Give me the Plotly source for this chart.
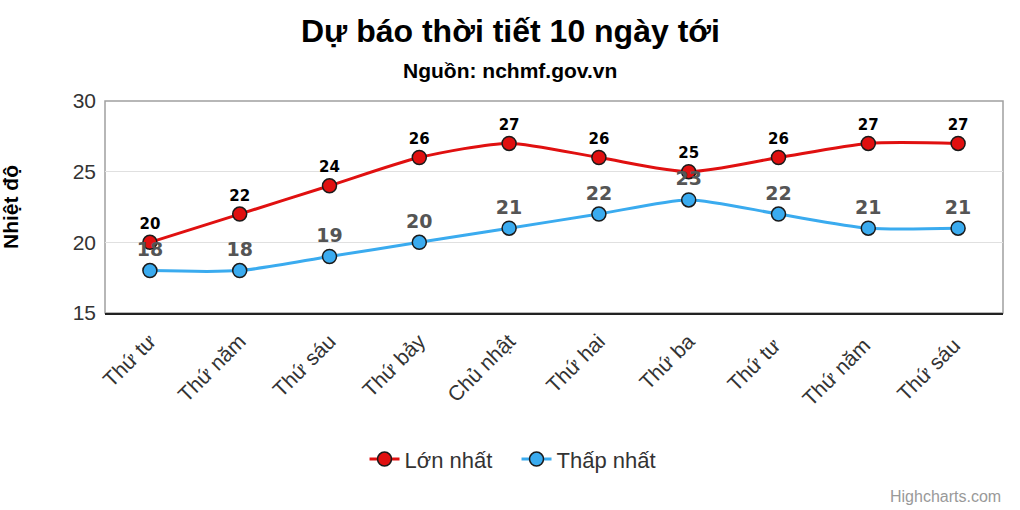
import plotly.graph_objects as go

categories = ["Thứ tư", "Thứ năm", "Thứ sáu", "Thứ bảy", "Chủ nhật",
              "Thứ hai", "Thứ ba", "Thứ tư ", "Thứ năm ", "Thứ sáu "]
max_temp = [20, 22, 24, 26, 27, 26, 25, 26, 27, 27]
min_temp = [18, 18, 19, 20, 21, 22, 23, 22, 21, 21]

FONT = "Liberation Sans, Arial, sans-serif"
LABEL_FONT = "DejaVu Sans, Verdana, sans-serif"
RED = "#e01010"
BLUE = "#3aabef"

fig = go.Figure()
fig.add_trace(go.Scatter(
    x=categories, y=max_temp, name="Lớn nhất",
    mode="lines+markers+text",
    line=dict(color=RED, width=3, shape="spline", smoothing=0.7),
    marker=dict(color=RED, size=14, line=dict(color="#1a1a1a", width=1.5)),
    text=[str(v) for v in max_temp], textposition="top center",
    textfont=dict(family=LABEL_FONT, size=15, color="#000000", weight="bold"),
    cliponaxis=False,
))
fig.add_trace(go.Scatter(
    x=categories, y=min_temp, name="Thấp nhất",
    mode="lines+markers+text",
    line=dict(color=BLUE, width=3, shape="spline", smoothing=0.7),
    marker=dict(color=BLUE, size=14, line=dict(color="#1a1a1a", width=1.5)),
    text=[str(v) for v in min_temp], textposition="top center",
    textfont=dict(family=LABEL_FONT, size=19, color="#555555", weight="bold"),
    cliponaxis=False,
))

fig.update_layout(
    width=1020, height=510,
    margin=dict(l=105, r=17, t=101, b=197),
    paper_bgcolor="white", plot_bgcolor="white",
    font=dict(family=FONT, color="#333333"),
    showlegend=True,
    legend=dict(orientation="h", x=0.289, xanchor="left", y=-0.69, yanchor="middle",
                font=dict(family=FONT, size=22, color="#333333"),
                entrywidth=107, tracegroupgap=0),
    annotations=[
        dict(text="<b>Dự báo thời tiết 10 ngày tới</b>", xref="paper", yref="paper",
             x=0.5, y=0, xanchor="center", yanchor="middle", showarrow=False,
             font=dict(family=FONT, size=32, color="#000000"),
             yshift=313 - 31, xshift=-44),
        dict(text="<b>Nguồn: nchmf.gov.vn</b>", xref="paper", yref="paper",
             x=0.5, y=0, xanchor="center", yanchor="middle", showarrow=False,
             font=dict(family=FONT, size=21, color="#000000"),
             yshift=313 - 70, xshift=-44),
        dict(text="<b>Nhiệt độ</b>", xref="paper", yref="paper",
             x=0, y=0.5, xanchor="center", yanchor="middle", showarrow=False,
             textangle=-90, font=dict(family=FONT, size=21, color="#000000"),
             xshift=-95),
        dict(text="Highcharts.com", xref="paper", yref="paper",
             x=1, y=0, xanchor="right", yanchor="middle", showarrow=False,
             font=dict(family=FONT, size=16, color="#999999"),
             yshift=-(496 - 313), xshift=0),
    ],
    shapes=[dict(type="rect", xref="paper", yref="paper", x0=0, y0=0, x1=1, y1=1,
                 line=dict(color="#a0a0a0", width=1.5), layer="below")],
)

fig.update_xaxes(
    type="category", range=[-0.5, 9.5],
    showgrid=False, showline=True, linecolor="#222222", linewidth=1.5,
    tickangle=-45, ticks="", tickfont=dict(family=FONT, size=21, color="#333333"),
    zeroline=False, ticklabelstandoff=6,
)
fig.update_yaxes(
    range=[15, 30], dtick=5, tick0=15,
    showgrid=True, gridcolor="#e0e0e0", gridwidth=1,
    showline=False, zeroline=False, ticks="",
    tickfont=dict(family=FONT, size=21, color="#333333"),
    ticklabelstandoff=8,
)

fig.write_html("out.html")
